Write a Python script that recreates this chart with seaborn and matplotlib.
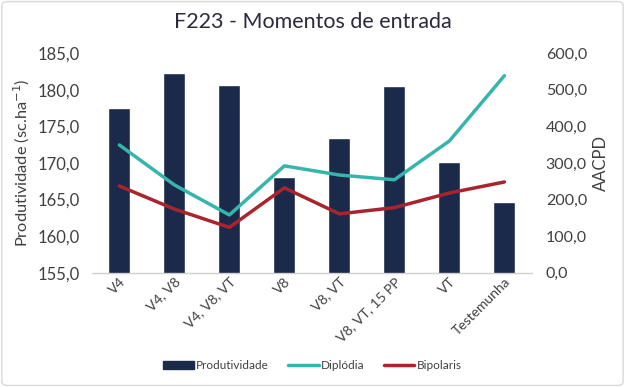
import matplotlib
matplotlib.use("Agg")
import matplotlib.pyplot as plt
import seaborn as sns
import pandas as pd
from matplotlib.patches import FancyBboxPatch, Patch
from matplotlib.lines import Line2D
from matplotlib.ticker import FuncFormatter

categories = ["V4", "V4, V8", "V4, V8, VT", "V8", "V8, VT", "V8, VT, 15 PP", "VT", "Testemunha"]
produtividade = [177.5, 182.3, 180.6, 168.1, 173.4, 180.5, 170.1, 164.7]
diplodia = [349, 240, 158, 292, 267, 254, 360, 538]
bipolaris = [237, 174, 124, 232, 161, 178, 218, 248]

sns.set_theme(style="white")
plt.rcParams['font.family'] = ['Lato', 'DejaVu Sans']

NAVY = "#1B2A4A"
TEAL = "#36B5AC"
RED = "#A8252E"
TXT = "#404040"

df = pd.DataFrame({"cat": categories, "prod": produtividade,
                   "dip": diplodia, "bip": bipolaris})

fig = plt.figure(figsize=(6.25, 3.87), dpi=100)
ax = fig.add_axes([0.147, 0.295, 0.704, 0.568])
sns.barplot(data=df, x="cat", y="prod", color=NAVY, width=0.4, ax=ax,
            saturation=1, order=categories)
ax.set_ylim(155, 185)
ax.set_xlim(-0.5, 7.5)
ax.set_yticks([155, 160, 165, 170, 175, 180, 185])
fmt = FuncFormatter(lambda v, p: f"{v:.1f}".replace(".", ","))
ax.yaxis.set_major_formatter(fmt)
ax.set_xlabel("")
ax.set_ylabel(r"Produtividade (sc.ha$^{-1}$)", fontsize=11.8, color=TXT, labelpad=4)
ax.tick_params(axis="y", labelsize=12, colors=TXT, length=0, pad=9)
ax.tick_params(axis="x", labelsize=10, colors=TXT, length=0, pad=2)
for lbl in ax.get_xticklabels():
    lbl.set_rotation(45)
    lbl.set_ha("right")
    lbl.set_rotation_mode("anchor")
for s in ["top", "right", "left"]:
    ax.spines[s].set_visible(False)
ax.spines["bottom"].set_color("#D0D0D0")
ax.spines["bottom"].set_linewidth(1)

ax2 = ax.twinx()
sns.lineplot(data=df, x="cat", y="dip", color=TEAL, linewidth=2.5, ax=ax2, sort=False)
sns.lineplot(data=df, x="cat", y="bip", color=RED, linewidth=2.5, ax=ax2, sort=False)
ax2.set_ylim(0, 600)
ax2.set_xlim(-0.5, 7.5)
ax2.set_yticks([0, 100, 200, 300, 400, 500, 600])
ax2.yaxis.set_major_formatter(fmt)
ax2.set_ylabel("AACPD", fontsize=12, color=TXT, labelpad=4)
ax2.tick_params(axis="y", labelsize=11.5, colors=TXT, length=0, pad=10)
for s in ["top", "right", "left", "bottom"]:
    ax2.spines[s].set_visible(False)
ax2.set_xlabel("")

fig.text(0.5, 0.942, "F223 - Momentos de entrada", ha="center", va="center",
         fontsize=15.5, color="#2B2B3B")

handles = [Patch(facecolor=NAVY, edgecolor=NAVY),
           Line2D([0], [0], color=TEAL, lw=2.5),
           Line2D([0], [0], color=RED, lw=2.5)]
fig.legend(handles, ["Produtividade", "Diplódia", "Bipolaris"], loc="center",
           bbox_to_anchor=(0.5, 0.055), ncol=3, frameon=False, fontsize=8.5,
           handlelength=2.6, handletextpad=0.2, columnspacing=1.6,
           labelcolor=TXT)

border = FancyBboxPatch((0.003, 0.004), 0.994, 0.992, boxstyle="round,pad=0,rounding_size=0.01",
                        transform=fig.transFigure, fill=False, edgecolor="#D9D9D9", linewidth=1)
fig.patches.append(border)

fig.savefig("out.png", dpi=100)
